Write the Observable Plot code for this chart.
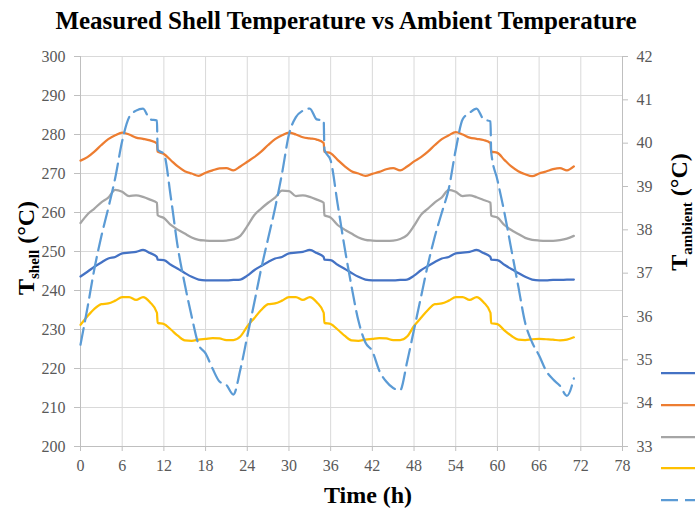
<!DOCTYPE html>
<html><head><meta charset="utf-8">
<script src="https://cdn.jsdelivr.net/npm/d3@7"></script>
<script src="https://cdn.jsdelivr.net/npm/@observablehq/plot@0.6"></script>
<style>
html,body{margin:0;padding:0;background:#fff;overflow:hidden;}
#chart svg{display:block;overflow:hidden;}
</style></head><body><div id="chart"></div>
<script>
// ---- data ----
const hours = [0,1,2,3,4,5,6,7,8,9,10,11,11.1,12,13,14,15,16,17,18,19,20,21,22,23,
  24,25,26,27,28,29,30,31,32,33,34,35,35.1,36,37,38,39,40,41,42,43,44,45,46,47,
  48,49,50,51,52,53,54,55,56,57,58,59,59.1,60,61,62,63,64,65,66,67,68,69,70,71];

const shellBlue = [243.6,244.8,246.1,247.2,248.2,248.6,249.5,249.7,249.9,250.4,249.6,248.6,247.9,247.8,246.6,245.6,244.5,243.5,242.8,242.6,242.6,242.6,242.6,242.7,242.8,
  243.8,245.2,246.3,247.3,248.2,248.6,249.5,249.7,249.9,250.4,249.6,248.6,247.9,247.8,246.6,245.6,244.5,243.5,242.8,242.6,242.6,242.6,242.6,242.7,242.8,
  243.8,245.2,246.3,247.3,248.2,248.6,249.5,249.7,249.9,250.4,249.6,248.6,247.9,247.8,246.6,245.5,244.5,243.5,242.8,242.6,242.6,242.7,242.7,242.8,242.8];

const shellOrange = [273.3,274.2,275.6,277.3,278.8,279.8,280.5,280.0,279.2,278.9,278.5,277.7,275.6,275.0,273.4,271.8,270.6,270.0,269.4,270.2,270.8,271.3,271.4,270.8,271.8,
  273.0,274.2,275.6,277.3,278.8,279.8,280.5,280.0,279.3,279.0,278.7,277.8,275.6,275.2,273.5,271.9,270.6,270.0,269.4,269.9,270.4,271.1,271.4,270.8,271.8,
  273.1,274.2,275.6,277.3,278.8,279.8,280.6,280.0,279.2,278.9,278.6,277.8,275.6,275.3,273.5,271.8,270.6,269.8,269.3,270.0,270.5,271.1,271.4,270.8,271.8];

const shellGray = [257.3,259.5,261.0,262.6,263.8,265.8,265.3,264.2,264.4,264.0,263.3,262.5,259.3,258.6,256.8,255.6,254.6,253.6,253.0,252.8,252.7,252.7,252.8,253.1,254.0,
  256.5,259.3,261.0,262.5,263.8,265.6,265.5,264.2,264.4,264.0,263.3,262.5,259.3,258.7,256.8,255.6,254.6,253.6,253.0,252.8,252.7,252.7,252.8,253.2,254.2,
  256.6,259.4,261.0,262.6,263.9,265.8,265.3,264.2,264.4,263.9,263.2,262.5,259.2,258.7,256.8,255.5,254.5,253.5,253.0,252.8,252.7,252.7,252.9,253.3,254.0];

const shellYellow = [231.2,233.4,235.3,236.5,236.7,237.4,238.3,238.3,237.6,238.3,237.0,234.3,231.7,231.4,230.0,228.4,227.2,227.1,227.4,227.6,227.8,227.7,227.3,227.3,228.2,
  230.8,232.9,235.0,236.5,236.7,237.4,238.3,238.3,237.6,238.3,237.0,234.3,231.7,231.4,230.0,228.4,227.2,227.1,227.4,227.6,227.8,227.7,227.3,227.3,228.2,
  230.9,233.0,235.0,236.5,236.7,237.4,238.3,238.3,237.6,238.3,237.0,234.3,231.6,231.4,229.8,228.4,227.4,227.3,227.5,227.6,227.5,227.4,227.2,227.4,228.0];

const ambient = [35.35,36.2,37.1,37.85,38.5,39.2,40.05,40.6,40.75,40.8,40.55,40.52,39.85,39.75,38.75,37.6,36.75,36.0,35.35,35.15,34.8,34.5,34.42,34.2,34.77,
  35.54,36.31,37.1,37.8,38.5,39.3,40.2,40.6,40.75,40.8,40.55,40.52,39.85,39.6,38.6,37.6,36.7,35.9,35.4,35.2,34.75,34.5,34.35,34.3,34.95,
  35.7,36.45,37.2,37.85,38.4,38.95,39.85,40.55,40.7,40.8,40.55,40.5,39.8,39.15,38.4,37.55,36.7,35.85,35.4,35.1,34.75,34.55,34.4,34.17,34.57];

const xTicks = [0,6,12,18,24,30,36,42,48,54,60,66,72,78];
const yTicks = [200,210,220,230,240,250,260,270,280,290,300];
const ambTicks = [33,34,35,36,37,38,39,40,41,42];
const colors = {blue:"#4472C4", orange:"#ED7D31", gray:"#A5A5A5", yellow:"#FFC000", ambient:"#5B9BD5"};

// ---- helpers ----
const toLeft = v => 200 + (v - 33) * 100 / 9;
const fromLeft = y => Math.round((y - 200) * 9 / 100 + 33);
const rows = vals => hours.map((t, i) => ({t, v: vals[i]}));
const dash = "17,7";
const font = "'Liberation Serif','Times New Roman',serif";

const lineOpts = c => ({x: "t", y: "v", stroke: c, strokeWidth: 2.25, curve: "monotone-x"});

const plot = Plot.plot({
  width: 695, height: 508,
  marginTop: 56, marginBottom: 62, marginLeft: 80, marginRight: 73,
  style: {fontFamily: font, fontSize: "16px", color: "#595959", background: "#fff", overflow: "hidden"},
  x: {domain: [0, 78]},
  y: {domain: [200, 300]},
  marks: [
    Plot.gridX(xTicks, {stroke: "#d9d9d9", strokeOpacity: 1, strokeWidth: 1}),
    Plot.gridY(yTicks, {stroke: "#d9d9d9", strokeOpacity: 1, strokeWidth: 1}),
    Plot.axisX({ticks: xTicks, tickSize: 5, tickPadding: 8, stroke: "#bfbfbf", fill: "#595959", label: null}),
    Plot.axisY({anchor: "left", ticks: yTicks, tickSize: 6, tickPadding: 9, stroke: "#bfbfbf", fill: "#595959", label: null}),
    Plot.axisY({anchor: "right", ticks: ambTicks.map(toLeft), tickFormat: fromLeft, tickSize: 5, tickPadding: 9, stroke: "#bfbfbf", fill: "#595959", label: null}),
    Plot.ruleX([0, 78], {stroke: "#bfbfbf"}),
    Plot.ruleY([200], {stroke: "#bfbfbf"}),
    Plot.line(rows(shellBlue), lineOpts(colors.blue)),
    Plot.line(rows(shellOrange), lineOpts(colors.orange)),
    Plot.line(rows(shellGray), lineOpts(colors.gray)),
    Plot.line(rows(shellYellow), lineOpts(colors.yellow)),
    Plot.line(rows(ambient), {x: "t", y: d => toLeft(d.v), stroke: colors.ambient, strokeWidth: 2.25, strokeDasharray: dash, curve: "monotone-x"})
  ]
});

const svg = d3.select(plot);
svg.append("text").attr("x", 346).attr("y", 29).attr("text-anchor", "middle")
  .attr("fill", "#000").style("font", `bold 25px ${font}`)
  .text("Measured Shell Temperature vs Ambient Temperature");

svg.append("text").attr("x", 368).attr("y", 503).attr("text-anchor", "middle")
  .attr("fill", "#000").style("font", `bold 24px ${font}`).text("Time (h)");

function axisTitle(x, y, sub) {
  const t = svg.append("text").attr("transform", `translate(${x},${y}) rotate(-90)`)
    .attr("text-anchor", "middle").attr("fill", "#000")
    .style("font", `bold 24px ${font}`).style("white-space", "pre");
  t.append("tspan").text("T");
  t.append("tspan").attr("dy", 5).style("font-size", "15px").text(sub);
  t.append("tspan").attr("dy", -5).text(" (°C)");
}
axisTitle(34, 248, "shell");
axisTitle(687, 212, "ambient");

// legend swatches (labels fall outside the visible frame)
const legend = [colors.blue, colors.orange, colors.gray, colors.yellow, colors.ambient];
const legendY = [373, 405, 437, 468, 500];
legend.forEach((c, i) => {
  svg.append("line").attr("x1", 661).attr("x2", 705).attr("y1", legendY[i]).attr("y2", legendY[i])
    .attr("stroke", c).attr("stroke-width", 2.25).attr("stroke-dasharray", i === 4 ? dash : null);
});

document.getElementById("chart").appendChild(plot);
</script></body></html>
